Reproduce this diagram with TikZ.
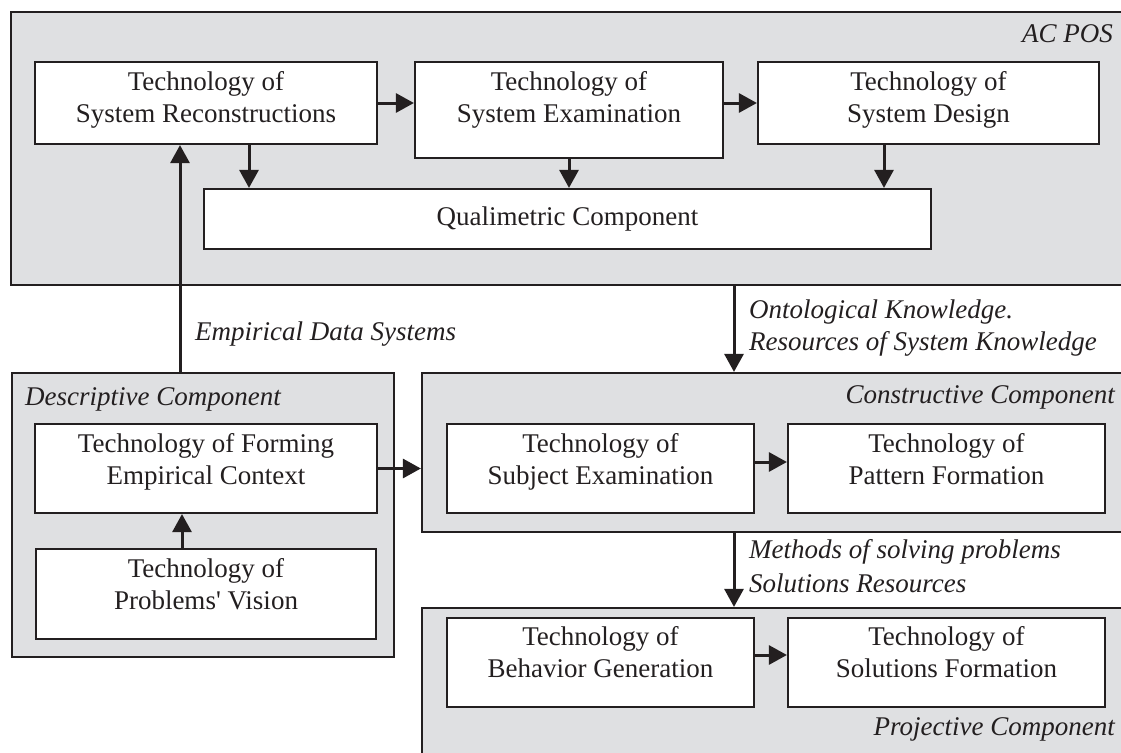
\documentclass[tikz,border=0pt]{standalone}
\usepackage{fontspec}
\setmainfont{Liberation Serif}
\usetikzlibrary{arrows.meta,calc}
\definecolor{ink}{HTML}{231F20}
\definecolor{panel}{HTML}{DFE0E2}
\newcommand\straightquote{\XeTeXglyph\XeTeXglyphindex"quotesingle"\relax}
\begin{document}
\begin{tikzpicture}[x=1pt,y=-1pt,
  every node/.style={font=\fontsize{27pt}{32pt}\selectfont, text=ink},
  obox/.style={draw=ink, line width=2.2pt, fill=panel, inner sep=0pt},
  tbox/.style={draw=ink, line width=2.2pt, fill=white, inner sep=0pt},
  ttext/.style={anchor=north, align=center, inner sep=0pt},
  lab/.style={font=\fontsize{27pt}{32pt}\selectfont\itshape, inner sep=0pt},
  arr/.style={draw=ink, line width=3pt, -{Triangle[length=18pt,width=19pt]}}]
\useasboundingbox (0,0) rectangle (1121,752);
\clip (0,0) rectangle (1121,752);
% outer panels
\node[obox, minimum width=1124pt, minimum height=273pt] (acpos) at (573,148.5) {};
\node[obox, minimum width=382pt, minimum height=284pt] (desc) at (203,515) {};
\node[obox, minimum width=713pt, minimum height=159pt] (constr) at (778.5,452.5) {};
\node[obox, minimum width=713pt, minimum height=162pt] (proj) at (778.5,689) {};
% panel labels
\node[lab, anchor=base east] (acposlab) at (1113,43) {AC POS};
\node[lab, anchor=base west] (desclab) at (25,405) {Descriptive Component};
\node[lab, anchor=base east] (constrlab) at (1115,403) {Constructive Component};
\node[lab, anchor=base east] (projlab) at (1115,735) {Projective Component};
% inner boxes
\node[tbox, minimum width=342pt, minimum height=82pt] (recon) at (206,103) {};
\node[tbox, minimum width=308pt, minimum height=96pt] (exam) at (569,110) {};
\node[tbox, minimum width=341pt, minimum height=82pt] (design) at (928.5,103) {};
\node[tbox, minimum width=727pt, minimum height=60pt] (qual) at (567.5,219) {Qualimetric Component};
\node[tbox, minimum width=342pt, minimum height=89pt] (forming) at (206,468.5) {};
\node[tbox, minimum width=340pt, minimum height=90pt] (problems) at (206,594) {};
\node[tbox, minimum width=307pt, minimum height=89pt] (subject) at (600.5,468.5) {};
\node[tbox, minimum width=317pt, minimum height=89pt] (pattern) at (946.5,468.5) {};
\node[tbox, minimum width=307pt, minimum height=89pt] (behavior) at (600.5,662.5) {};
\node[tbox, minimum width=317pt, minimum height=89pt] (solutions) at (946.5,662.5) {};
% box texts
\node[ttext] (recont) at ([yshift=-10.5pt]recon.north) {Technology of\\System Reconstructions};
\node[ttext] (examt) at ([yshift=-10.5pt]exam.north) {Technology of\\System Examination};
\node[ttext] (designt) at ([yshift=-10.5pt]design.north) {Technology of\\System Design};
\node[ttext] (formingt) at ([yshift=-10.5pt]forming.north) {Technology of Forming\\Empirical Context};
\node[ttext] (problemst) at ([yshift=-10pt]problems.north) {Technology of\\Problems\straightquote{} Vision};
\node[ttext] (subjectt) at ([yshift=-10pt]subject.north) {Technology of\\Subject Examination};
\node[ttext] (patternt) at ([yshift=-10pt]pattern.north) {Technology of\\Pattern Formation};
\node[ttext] (behaviort) at ([yshift=-9pt]behavior.north) {Technology of\\Behavior Generation};
\node[ttext] (solutionst) at ([yshift=-9pt]solutions.north) {Technology of\\Solutions Formation};
% connector labels
\coordinate (onx) at (734,0);
\node[lab, anchor=base west] (empl) at (195,340) {Empirical Data Systems};
\node[lab, anchor=base west] (ontl1) at (749,318) {Ontological Knowledge.};
\node[lab, anchor=base west] (ontl2) at (749,350) {Resources of System Knowledge};
\node[lab, anchor=base west] (metl1) at (749,558) {Methods of solving problems};
\node[lab, anchor=base west] (metl2) at (749,592) {Solutions Resources};
% connectors
\draw[arr] (recon.east) -- (recon.east -| exam.west);
\draw[arr] (design.west -| exam.east) -- (design.west);
\draw[arr] ([xshift=43pt]recon.south) -- ([xshift=43pt]recon.south |- qual.north);
\draw[arr] (exam.south) -- (exam.south |- qual.north);
\draw[arr] ([xshift=-44.5pt]design.south) -- ([xshift=-44.5pt]design.south |- qual.north);
\draw[arr] ([xshift=-26pt]recon.south |- desc.north) -- ([xshift=-26pt]recon.south);
\draw[arr] (acpos.south -| onx) -- (constr.north -| onx);
\draw[arr] (constr.south -| onx) -- (proj.north -| onx);
\draw[arr] (forming.east) -- (forming.east -| constr.west);
\draw[arr] ([xshift=-24pt]problems.north) -- ([xshift=-24pt]problems.north |- forming.south);
\draw[arr] ([yshift=6.5pt]subject.east) -- ([yshift=6.5pt]subject.east -| pattern.west);
\draw[arr] ([yshift=7.5pt]behavior.east) -- ([yshift=7.5pt]behavior.east -| solutions.west);
\end{tikzpicture}
\end{document}
